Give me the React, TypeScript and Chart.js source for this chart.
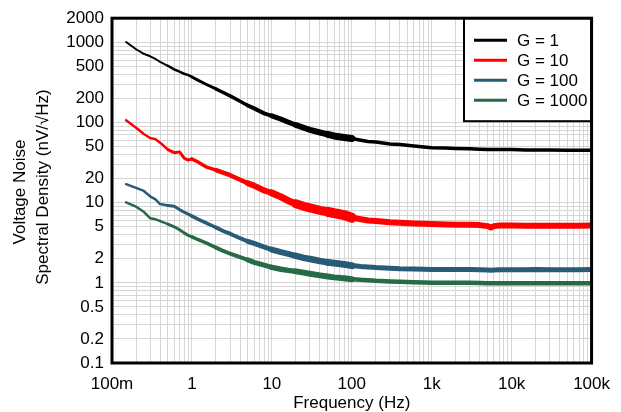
import React, { useEffect, useRef } from 'react';
import { Chart, registerables } from 'chart.js';

Chart.register(...registerables);

// ---- data ----
const freqs = [
  0.15, 0.2, 0.25, 0.3, 0.35, 0.4, 0.5, 0.6, 0.7, 0.8, 0.9, 1, 1.2, 1.5, 2, 2.5, 3, 4, 5, 6, 8,
  10, 13, 16, 20, 25, 30, 40, 50, 60, 80, 100, 130, 160, 200, 300, 400, 600, 800, 1000, 1500,
  2000, 3000, 4000, 5000, 5500, 6000, 7000, 8000, 10000, 15000, 20000, 30000, 50000, 70000, 100000,
];

const gain1 = [
  1010, 820, 720, 670, 620, 570, 510, 460, 430, 405, 390, 370, 335, 300, 262, 235, 215, 184, 163, 150, 130,
  121, 110, 101, 93, 86, 81, 75, 71, 68, 65, 63, 60, 58, 57, 54, 53, 51, 49.5, 48.5, 48,
  47.5, 47, 46.5, 46, 46, 46, 46, 46, 46, 45.5, 45.5, 45.5, 45.2, 45.2, 45.2,
];

const gain10 = [
  107, 86, 72, 64, 62, 56, 46, 42, 43, 36, 34, 35, 32, 28, 25.5, 23.5, 22, 19.3, 17.5, 16.3, 14.2,
  13.2, 11.8, 10.6, 9.7, 9.0, 8.6, 8.0, 7.7, 7.4, 7.0, 6.5, 6.2, 6.0, 5.9, 5.7, 5.6, 5.5, 5.45, 5.4, 5.35,
  5.3, 5.3, 5.25, 5.1, 4.9, 5.1, 5.2, 5.2, 5.2, 5.15, 5.15, 5.15, 5.15, 5.15, 5.2,
];

const gain100 = [
  17, 15.3, 14, 12, 11, 9.6, 9.2, 9.0, 8.2, 7.6, 7.2, 6.8, 6.2, 5.6, 4.9, 4.4, 4.1, 3.6, 3.3, 3.1, 2.8,
  2.6, 2.42, 2.3, 2.17, 2.05, 1.98, 1.87, 1.8, 1.76, 1.7, 1.64, 1.6, 1.58, 1.55, 1.52, 1.5, 1.49, 1.48, 1.47, 1.47,
  1.47, 1.47, 1.46, 1.45, 1.44, 1.45, 1.46, 1.46, 1.46, 1.46, 1.47, 1.46, 1.46, 1.46, 1.47,
];

const gain1000 = [
  10.1, 8.9, 7.7, 6.4, 6.2, 5.9, 5.4, 5.0, 4.6, 4.2, 3.9, 3.75, 3.45, 3.15, 2.75, 2.48, 2.32, 2.09, 1.93, 1.8, 1.66,
  1.56, 1.48, 1.43, 1.39, 1.34, 1.3, 1.24, 1.2, 1.17, 1.14, 1.11, 1.09, 1.08, 1.06, 1.04, 1.03, 1.02, 1.01, 1.0, 1.0,
  1.0, 1.0, 0.995, 0.99, 0.99, 0.99, 0.99, 0.99, 0.99, 0.99, 0.99, 0.99, 0.99, 0.99, 0.99,
];

const seriesNames = ['G = 1', 'G = 10', 'G = 100', 'G = 1000'];
const seriesColors = ['#000000', '#ff0000', '#275b76', '#266b45'];
const seriesValues = [gain1, gain10, gain100, gain1000];

const xLabelValues = [0.1, 1, 10, 100, 1000, 10000, 100000];
const xLabels = ['100m', '1', '10', '100', '1k', '10k', '100k'];
const yLabelValues = [0.1, 0.2, 0.5, 1, 2, 5, 10, 20, 50, 100, 200, 500, 1000, 2000];
const yLabels = ['0.1', '0.2', '0.5', '1', '2', '5', '10', '20', '50', '100', '200', '500', '1000', '2000'];

const xTitle = 'Frequency (Hz)';
const yTitle1 = 'Voltage Noise';
const yTitle2 = 'Spectral Density (nV/\u221AHz)';

// noise-band widths per frequency region
const bandEdges = [0.5, 1, 2, 5, 10, 20, 50, 100];
const bandWidths = [
  [2, 2.5, 3, 3.5, 4, 5, 6, 7, 3.5],
  [2.5, 3, 3.5, 4.5, 6, 7, 9, 10, 6],
  [2.5, 3, 3.5, 4, 5, 6, 6.5, 7, 5],
  [2.5, 3, 3.5, 4, 5, 5.5, 6, 6, 4.5],
];

const FONT = 'Arial, "Liberation Sans", sans-serif';

function gridValues(minExp: number, maxExp: number, top: number): number[] {
  const out: number[] = [];
  for (let e = minExp; e <= maxExp; e++) {
    for (let m = 1; m <= 9; m++) {
      const v = parseFloat((m * Math.pow(10, e)).toPrecision(6));
      if (v <= top) out.push(v);
    }
  }
  return out;
}

function labelFor(v: number, vals: number[], labels: string[]): string {
  for (let i = 0; i < vals.length; i++) {
    if (Math.abs(v - vals[i]) / vals[i] < 1e-6) return labels[i];
  }
  return '';
}

function widthIndex(f: number): number {
  let i = 0;
  while (i < bandEdges.length && f >= bandEdges[i]) i++;
  return i;
}

const framePlugin = {
  id: 'framePlugin',
  afterDraw(chart: any) {
    const { ctx, chartArea } = chart;
    const { left, right, top, bottom } = chartArea;
    ctx.save();
    // legend
    const lx = 464, ly = top, lw = right - 464, lh = 103;
    ctx.fillStyle = '#fff';
    ctx.fillRect(lx, ly, lw, lh);
    ctx.strokeStyle = '#000';
    ctx.lineWidth = 2;
    ctx.strokeRect(lx, ly, lw, lh);
    // frame
    ctx.lineWidth = 3;
    ctx.strokeRect(left, top, right - left, bottom - top);
    ctx.font = `17px ${FONT}`;
    ctx.textBaseline = 'middle';
    ctx.textAlign = 'left';
    for (let i = 0; i < seriesNames.length; i++) {
      const yy = ly + 22 + i * 20;
      ctx.strokeStyle = seriesColors[i];
      ctx.lineWidth = 3;
      ctx.beginPath();
      ctx.moveTo(474, yy);
      ctx.lineTo(507, yy);
      ctx.stroke();
      ctx.fillStyle = '#000';
      ctx.fillText(seriesNames[i], 517, yy + 1);
    }

    // axis titles
    ctx.fillStyle = '#000';
    ctx.font = `17px ${FONT}`;
    ctx.textAlign = 'center';
    ctx.textBaseline = 'middle';
    ctx.fillText(xTitle, (left + right) / 2, 403);
    ctx.save();
    ctx.translate(20, 192);
    ctx.rotate(-Math.PI / 2);
    ctx.fillText(yTitle1, 0, 0);
    ctx.restore();
    ctx.save();
    ctx.translate(43, 187);
    ctx.rotate(-Math.PI / 2);
    ctx.fillText(yTitle2, 0, 0);
    ctx.restore();
    ctx.restore();
  },
};

export default function App() {
  const canvasRef = useRef<HTMLCanvasElement | null>(null);

  useEffect(() => {
    document.body.style.margin = '0';
    const canvas = canvasRef.current;
    if (!canvas) return;
    const xGrid = gridValues(-1, 4, 100000).concat([100000]);
    const yGrid = gridValues(-1, 3, 2000);

    const datasets = seriesValues.map((vals, si) => ({
      label: seriesNames[si],
      data: freqs.map((f, i) => ({ x: f, y: vals[i] })),
      borderColor: seriesColors[si],
      backgroundColor: seriesColors[si],
      pointRadius: 0,
      tension: 0,
      borderJoinStyle: 'round' as const,
      borderCapStyle: 'round' as const,
      borderWidth: bandWidths[si][0],
      segment: {
        borderWidth: (ctx: any) => bandWidths[si][widthIndex(ctx.p0.parsed.x)],
      },
    }));

    const chart = new Chart(canvas, {
      type: 'line',
      data: { datasets },
      options: {
        animation: false,
        responsive: true,
        maintainAspectRatio: false,
        layout: { padding: { top: 18, right: 22, left: 0, bottom: 0 } },
        plugins: { legend: { display: false }, tooltip: { enabled: false } },
        scales: {
          x: {
            type: 'logarithmic',
            min: 0.1,
            max: 100000,
            afterBuildTicks: (s: any) => {
              s.ticks = xGrid.map((v) => ({ value: v }));
            },
            afterFit: (s: any) => {
              s.height = 49;
            },
            ticks: {
              autoSkip: false,
              maxRotation: 0,
              minRotation: 0,
              padding: 11,
              color: '#000',
              font: { family: FONT, size: 17 },
              callback: (v: any) => labelFor(Number(v), xLabelValues, xLabels),
            },
            grid: { color: '#d6d6d6', lineWidth: 1, drawTicks: false },
            border: { display: false },
          },
          y: {
            type: 'logarithmic',
            min: 0.1,
            max: 2000,
            afterBuildTicks: (s: any) => {
              s.ticks = yGrid.map((v) => ({ value: v }));
            },
            afterFit: (s: any) => {
              s.width = 112;
            },
            ticks: {
              autoSkip: false,
              padding: 8,
              color: '#000',
              font: { family: FONT, size: 17 },
              callback: (v: any) => labelFor(Number(v), yLabelValues, yLabels),
            },
            grid: { color: '#d6d6d6', lineWidth: 1, drawTicks: false },
            border: { display: false },
          },
        },
      },
      plugins: [framePlugin],
    });
    return () => chart.destroy();
  }, []);

  return (
    <div style={{ position: 'relative', width: '621px', height: '412px', background: '#fff' }}>
      <canvas ref={canvasRef} />
    </div>
  );
}
